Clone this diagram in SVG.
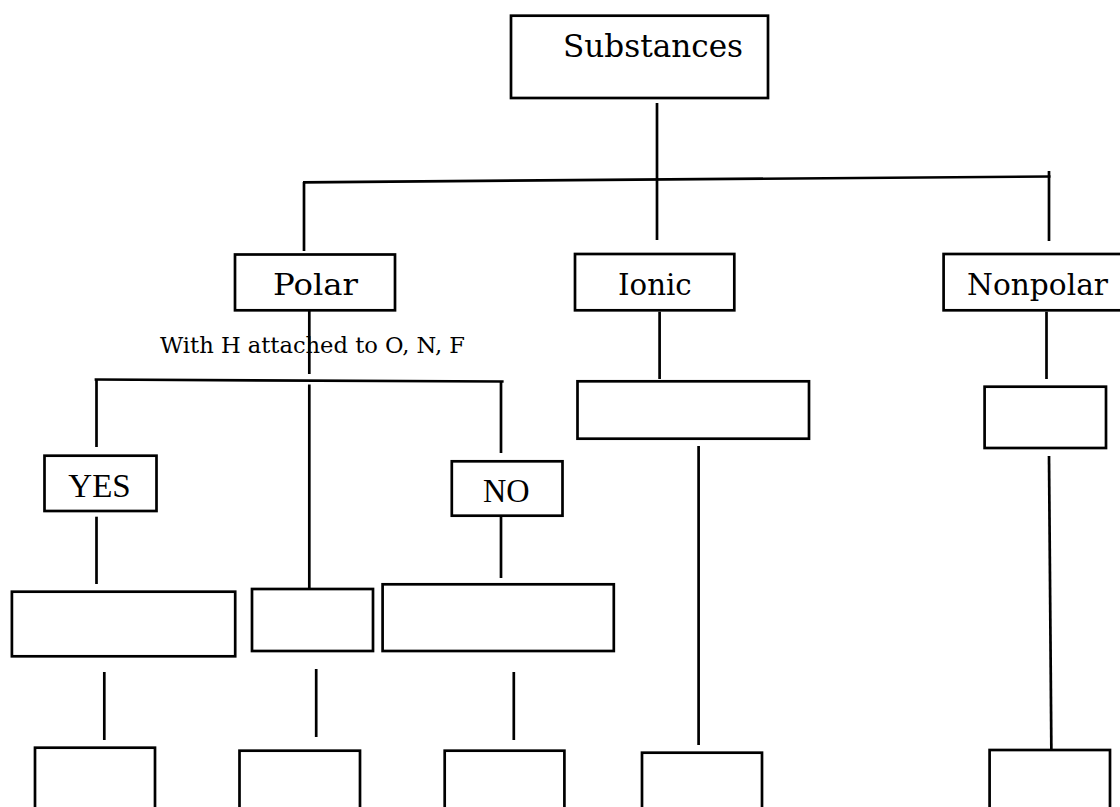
<svg xmlns="http://www.w3.org/2000/svg" width="1120" height="807" viewBox="0 0 1120 807">
<style>
.box{fill:#fff;stroke:#000;stroke-width:2.7}
.c line{stroke:#000;stroke-width:2.7;fill:none}
.t{font-family:"DejaVu Serif","Liberation Serif",serif;fill:#000}
.tt{font-family:"Liberation Serif","Times New Roman",serif;fill:#000}
</style>
<rect width="1120" height="807" fill="#fff"/>
<g class="c" id="connectors">
<line x1="657" y1="103" x2="657" y2="240"/>
<line x1="303" y1="182.3" x2="1050.5" y2="176.5"/>
<line x1="304" y1="182" x2="304" y2="251"/>
<line x1="1049" y1="171" x2="1049" y2="241"/>
<line x1="309.3" y1="306" x2="309.3" y2="374"/>
<line x1="94.6" y1="379.5" x2="503.6" y2="381.5"/>
<line x1="96.5" y1="379.5" x2="96.5" y2="447"/>
<line x1="309.3" y1="384.5" x2="309.3" y2="591"/>
<line x1="501" y1="381" x2="501" y2="453"/>
<line x1="96.5" y1="516.7" x2="96.5" y2="584"/>
<line x1="501" y1="516.7" x2="501" y2="578"/>
<line x1="659.6" y1="311.7" x2="659.6" y2="379"/>
<line x1="1046.5" y1="311.7" x2="1046.5" y2="379"/>
<line x1="698.6" y1="446" x2="698.6" y2="745"/>
<line x1="1049" y1="456" x2="1051.4" y2="753"/>
<line x1="104.3" y1="672" x2="104.3" y2="740"/>
<line x1="316.2" y1="669" x2="316.2" y2="737"/>
<line x1="513.8" y1="672" x2="513.8" y2="740"/>
</g>
<g id="substances"><rect class="box" x="511" y="15.7" width="257" height="82.3"/><text class="t" x="563" y="56.7" font-size="31.5" textLength="180" lengthAdjust="spacingAndGlyphs">Substances</text></g>
<g id="polar"><rect class="box" x="235" y="254.5" width="160" height="55.8"/><text class="t" x="273" y="295" font-size="30" textLength="85" lengthAdjust="spacingAndGlyphs">Polar</text></g>
<g id="ionic"><rect class="box" x="575" y="254" width="159.3" height="56.3"/><text class="t" x="618" y="295" font-size="29" textLength="73.7" lengthAdjust="spacingAndGlyphs">Ionic</text></g>
<g id="nonpolar"><rect class="box" x="943.6" y="254" width="187.4" height="56.3"/><text class="t" x="967" y="295" font-size="29.5" textLength="141" lengthAdjust="spacingAndGlyphs">Nonpolar</text></g>
<g id="hbond-label"><text class="t" x="160" y="352.7" font-size="22.5" textLength="305" lengthAdjust="spacingAndGlyphs">With H attached to O, N, F</text></g>
<g id="yes"><rect class="box" x="44.5" y="455.7" width="112" height="55.3"/><text class="tt" x="68.3" y="496.7" font-size="33" textLength="62.4" lengthAdjust="spacingAndGlyphs">YES</text></g>
<g id="no"><rect class="box" x="451.8" y="461.3" width="110.7" height="54.4"/><text class="tt" x="483" y="501.7" font-size="33" textLength="46.6" lengthAdjust="spacingAndGlyphs">NO</text></g>
<g id="ionic-child"><rect class="box" x="577.5" y="381.3" width="231.5" height="57.4"/></g>
<g id="nonpolar-child"><rect class="box" x="984.6" y="386.7" width="121.4" height="61.3"/></g>
<g id="yes-child"><rect class="box" x="11.9" y="591.7" width="223.3" height="64.6"/></g>
<g id="polar-child"><rect class="box" x="252" y="589" width="121" height="62"/></g>
<g id="no-child"><rect class="box" x="382.6" y="584.3" width="231.2" height="66.7"/></g>
<g id="bottom-1"><rect class="box" x="35" y="747.7" width="120" height="72"/></g>
<g id="bottom-2"><rect class="box" x="239.5" y="750.7" width="120.5" height="72"/></g>
<g id="bottom-3"><rect class="box" x="444.7" y="750.7" width="119.7" height="72"/></g>
<g id="bottom-4"><rect class="box" x="642" y="752.7" width="120" height="72"/></g>
<g id="bottom-5"><rect class="box" x="989.6" y="750" width="120.4" height="72"/></g>
</svg>
